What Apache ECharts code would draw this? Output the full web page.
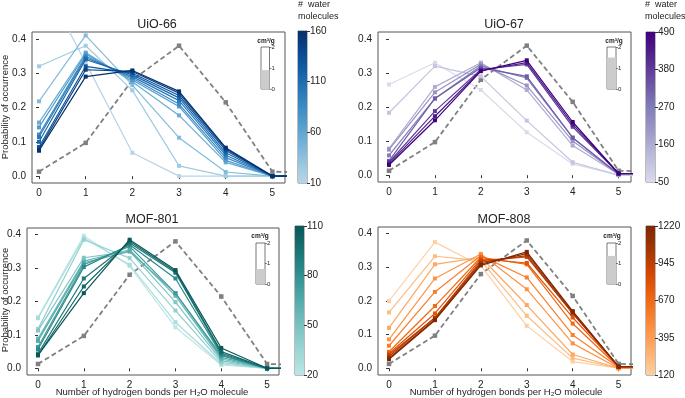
<!DOCTYPE html>
<html>
<head>
<meta charset="utf-8">
<script src="https://cdn.jsdelivr.net/npm/echarts@6/dist/echarts.min.js"></script>
<style>
  html, body { margin: 0; padding: 0; background: #fff; }
  #chart { width: 685px; height: 398px; }
</style>
</head>
<body>
<div id="chart"></div>
<script>
// number of H-bonds per water molecule (6 is outside the visible range, lines run off the right edge)
const hbonds = [0, 1, 2, 3, 4, 5, 6];
const xTicks = [0, 1, 2, 3, 4, 5];
const yTicks = [0, 0.1, 0.2, 0.3, 0.4];
const insetTicks = [0, 1, 2];

// bulk water reference (grey dashed)
const bulkWater = [0.013, 0.097, 0.28, 0.38, 0.215, 0.013, 0.01];

// UiO-66
const uio66Water = [10, 25, 40, 55, 70, 85, 100, 115, 130, 145, 160];
const uio66Profiles = [
  [0.59, 0.33, 0.068, 0.0, 0.0, 0.0, 0.0],
  [0.32, 0.38, 0.25, 0.03, 0.0, 0.0, 0.0],
  [0.218, 0.41, 0.265, 0.112, 0.012, 0.0, 0.0],
  [0.156, 0.36, 0.275, 0.177, 0.04, 0.0, 0.0],
  [0.142, 0.356, 0.28, 0.203, 0.046, 0.0, 0.0],
  [0.121, 0.35, 0.285, 0.21, 0.054, 0.0, 0.0],
  [0.114, 0.345, 0.29, 0.22, 0.061, 0.0, 0.0],
  [0.10, 0.34, 0.295, 0.228, 0.068, 0.0, 0.0],
  [0.085, 0.32, 0.30, 0.235, 0.075, 0.0, 0.0],
  [0.078, 0.31, 0.305, 0.242, 0.08, 0.0, 0.0],
  [0.074, 0.29, 0.308, 0.247, 0.083, 0.0, 0.0]
];
const uio66Ticks = [10, 60, 110, 160];
const uio66Uptake = 0.9;

// UiO-67
const uio67Water = [50, 105, 160, 215, 270, 325, 380, 435, 490];
const uio67Profiles = [
  [0.266, 0.33, 0.25, 0.126, 0.033, 0.0, 0.0],
  [0.183, 0.32, 0.29, 0.16, 0.038, 0.0, 0.0],
  [0.078, 0.259, 0.33, 0.25, 0.087, 0.003, 0.003],
  [0.075, 0.243, 0.325, 0.263, 0.10, 0.003, 0.003],
  [0.058, 0.225, 0.32, 0.285, 0.11, 0.003, 0.003],
  [0.042, 0.225, 0.315, 0.29, 0.11, 0.003, 0.003],
  [0.038, 0.188, 0.31, 0.325, 0.142, 0.005, 0.005],
  [0.034, 0.173, 0.307, 0.33, 0.149, 0.005, 0.005],
  [0.03, 0.161, 0.305, 0.337, 0.156, 0.005, 0.005]
];
const uio67Ticks = [50, 160, 270, 380, 490];
const uio67Uptake = 1.5;

// MOF-801
const mof801Water = [20, 29, 38, 47, 56, 65, 74, 83, 92, 101, 110];
const mof801Profiles = [
  [0.153, 0.397, 0.306, 0.123, 0.01, 0.0, 0.0],
  [0.15, 0.39, 0.31, 0.138, 0.013, 0.0, 0.0],
  [0.118, 0.385, 0.33, 0.173, 0.018, 0.0, 0.0],
  [0.113, 0.331, 0.35, 0.198, 0.023, 0.0, 0.0],
  [0.089, 0.321, 0.355, 0.217, 0.028, 0.0, 0.0],
  [0.082, 0.316, 0.35, 0.225, 0.033, 0.0, 0.0],
  [0.064, 0.31, 0.365, 0.225, 0.038, 0.0, 0.0],
  [0.057, 0.303, 0.37, 0.269, 0.041, 0.0, 0.0],
  [0.044, 0.269, 0.375, 0.286, 0.045, 0.0, 0.0],
  [0.039, 0.245, 0.38, 0.29, 0.05, 0.0, 0.0],
  [0.039, 0.225, 0.385, 0.294, 0.061, 0.0, 0.0]
];
const mof801Ticks = [20, 50, 80, 110];
const mof801Uptake = 0.73;

// MOF-808
const mof808Water = [120, 230, 340, 450, 560, 670, 780, 890, 1000, 1110, 1220];
const mof808Profiles = [
  [0.2, 0.375, 0.305, 0.126, 0.02, 0.0, 0.0],
  [0.166, 0.333, 0.32, 0.156, 0.03, 0.0, 0.0],
  [0.12, 0.309, 0.33, 0.188, 0.041, 0.0, 0.0],
  [0.086, 0.267, 0.34, 0.235, 0.074, 0.0, 0.0],
  [0.067, 0.227, 0.335, 0.27, 0.099, 0.003, 0.003],
  [0.049, 0.185, 0.33, 0.309, 0.133, 0.003, 0.003],
  [0.044, 0.163, 0.325, 0.313, 0.151, 0.005, 0.005],
  [0.04, 0.15, 0.32, 0.331, 0.163, 0.005, 0.005],
  [0.035, 0.15, 0.315, 0.335, 0.163, 0.005, 0.005],
  [0.03, 0.145, 0.31, 0.341, 0.167, 0.005, 0.005],
  [0.027, 0.143, 0.306, 0.346, 0.17, 0.005, 0.005]
];
const mof808Ticks = [120, 395, 670, 945, 1220];
const mof808Uptake = 1.37;

// colour maps (evenly spaced stops, lo = where the truncated map starts)
const blues = { lo: 0.3, stops: ['#f7fbff', '#deebf7', '#c6dbef', '#9ecae1', '#6baed6', '#4292c6', '#2171b5', '#08519c', '#08306b'] };
const purples = { lo: 0.25, stops: ['#fcfbfd', '#efedf5', '#dadaeb', '#bcbddc', '#9e9ac8', '#807dba', '#6a51a3', '#54278f', '#3f007d'] };
const teals = { lo: 0.2, stops: ['#e6f6f6', '#bde6e6', '#8ccccc', '#55aaaa', '#248282', '#0a5757'] };
const oranges = { lo: 0.25, stops: ['#fff5eb', '#fee6ce', '#fdd0a2', '#fdae6b', '#fd8d3c', '#f16913', '#d94801', '#a63603', '#7f2704'] };

const FONT = '"Liberation Sans", Arial, sans-serif';
const TXT = '#222';
const FRAME = '#555';

function hexToRgb(h) {
  return [parseInt(h.slice(1, 3), 16), parseInt(h.slice(3, 5), 16), parseInt(h.slice(5, 7), 16)];
}

// t in [0,1] over the truncated part of the map
function cmapColor(cm, t) {
  const s = cm.lo + (1 - cm.lo) * Math.min(Math.max(t, 0), 1);
  const n = cm.stops.length - 1;
  const p = s * n;
  const i = Math.min(Math.floor(p), n - 1);
  const f = p - i;
  const a = hexToRgb(cm.stops[i]), b = hexToRgb(cm.stops[i + 1]);
  return 'rgb(' + a.map((v, k) => Math.round(v + (b[k] - v) * f)).join(',') + ')';
}

// layout of the four panels
const panels = [
  {
    name: 'UiO-66', water: uio66Water, profiles: uio66Profiles, ticks: uio66Ticks, uptake: uio66Uptake, cmap: blues,
    grid: { left: 32, top: 32, width: 253, height: 151 }, xRange: [-0.15, 5.27],
    cbar: { left: 298, top: 31, width: 9, height: 152 },
    inset: { left: 261, top: 47, width: 8.5, height: 42 }, insetLabel: [266, 41],
    title: [157, 25], yName: [5, 107], xName: null, cbarName: [298, 5]
  },
  {
    name: 'UiO-67', water: uio67Water, profiles: uio67Profiles, ticks: uio67Ticks, uptake: uio67Uptake, cmap: purples,
    grid: { left: 378, top: 32, width: 253, height: 150 }, xRange: [-0.24, 5.27],
    cbar: { left: 646, top: 32, width: 9, height: 150 },
    inset: { left: 607, top: 47, width: 9, height: 42 }, insetLabel: [614, 41],
    title: [504, 25], yName: null, xName: null, cbarName: [645, 5]
  },
  {
    name: 'MOF-801', water: mof801Water, profiles: mof801Profiles, ticks: mof801Ticks, uptake: mof801Uptake, cmap: teals,
    grid: { left: 27, top: 228, width: 252, height: 147 }, xRange: [-0.24, 5.26],
    cbar: { left: 295, top: 226, width: 9, height: 149 },
    inset: { left: 256, top: 243, width: 9, height: 41 }, insetLabel: [260, 236],
    title: [152, 220], yName: [5, 300], xName: [152, 392], cbarName: null
  },
  {
    name: 'MOF-808', water: mof808Water, profiles: mof808Profiles, ticks: mof808Ticks, uptake: mof808Uptake, cmap: oranges,
    grid: { left: 378, top: 227, width: 253, height: 148 }, xRange: [-0.24, 5.27],
    cbar: { left: 646, top: 226, width: 9, height: 149 },
    inset: { left: 607, top: 243, width: 9, height: 41 }, insetLabel: [612, 236],
    title: [504, 220], yName: null, xName: [506, 392], cbarName: null
  }
];

const grids = [], xAxes = [], yAxes = [], series = [], graphics = [];

function text(x, y, str, opts) {
  graphics.push(Object.assign({
    type: 'text', x: x, y: y, silent: true,
    style: Object.assign({
      text: str, fill: TXT, fontFamily: FONT, fontSize: 10,
      align: 'center', verticalAlign: 'middle', textAlign: 'center', textVerticalAlign: 'middle'
    }, opts && opts.style)
  }, opts && opts.el));
}

panels.forEach((p, pi) => {
  const g = pi * 3;
  const wMin = p.ticks[0], wMax = p.ticks[p.ticks.length - 1];

  // main plot
  grids.push(Object.assign({ show: true, borderColor: FRAME, borderWidth: 1, backgroundColor: 'transparent', containLabel: false }, p.grid));
  xAxes.push({
    gridIndex: g, type: 'value', min: p.xRange[0], max: p.xRange[1],
    axisLine: { show: false },
    axisTick: { show: true, customValues: xTicks, length: 3, lineStyle: { color: '#333' } },
    axisLabel: { customValues: xTicks, fontSize: 10, color: TXT, fontFamily: FONT, margin: 5 },
    splitLine: { show: false }
  });
  yAxes.push({
    gridIndex: g, type: 'value', min: -0.02, max: 0.42,
    axisLine: { show: false },
    axisTick: { show: true, customValues: yTicks, length: 3, lineStyle: { color: '#333' } },
    axisLabel: { customValues: yTicks, fontSize: 10, color: TXT, fontFamily: FONT, margin: 6, formatter: v => v.toFixed(1) },
    splitLine: { show: false }
  });

  // colour bar
  grids.push(Object.assign({ show: true, borderColor: FRAME, borderWidth: 0.8, backgroundColor: 'transparent' }, p.cbar));
  xAxes.push({ gridIndex: g + 1, type: 'category', data: [''], show: false });
  yAxes.push({
    gridIndex: g + 1, type: 'value', position: 'right', min: wMin, max: wMax,
    axisLine: { show: false },
    axisTick: { show: true, customValues: p.ticks, length: 3, lineStyle: { color: '#333' } },
    axisLabel: { customValues: p.ticks, fontSize: 10, color: TXT, fontFamily: FONT, margin: 3, formatter: v => String(v) },
    splitLine: { show: false }
  });

  // inset (uptake cm3/g)
  grids.push(Object.assign({ show: true, borderColor: FRAME, borderWidth: 0.8, backgroundColor: '#fff' }, p.inset));
  xAxes.push({ gridIndex: g + 2, type: 'category', data: [''], show: false });
  yAxes.push({
    gridIndex: g + 2, type: 'value', position: 'right', min: 0, max: 2,
    axisLine: { show: false },
    axisTick: { show: true, customValues: insetTicks, length: 2, lineStyle: { color: '#333', width: 0.6 } },
    axisLabel: { customValues: insetTicks, fontSize: 6, color: TXT, fontFamily: FONT, margin: 2 },
    splitLine: { show: false }
  });

  // bulk water reference line
  series.push({
    type: 'line', xAxisIndex: g, yAxisIndex: g,
    data: hbonds.map((h, k) => [h, bulkWater[k]]),
    symbol: 'rect', symbolSize: 4.5, showSymbol: true,
    lineStyle: { color: '#808080', width: 1.8, type: [5, 3] },
    itemStyle: { color: '#808080' },
    silent: true, animation: false, z: 2
  });

  // one line per loading, light to dark
  p.profiles.forEach((prof, li) => {
    const c = cmapColor(p.cmap, (p.water[li] - wMin) / (wMax - wMin));
    series.push({
      type: 'line', xAxisIndex: g, yAxisIndex: g,
      data: hbonds.map((h, k) => [h, prof[k]]),
      symbol: 'rect', symbolSize: 4, showSymbol: true,
      lineStyle: { color: c, width: 1.2 },
      itemStyle: { color: c },
      silent: true, animation: false, z: 3 + li
    });
  });

  // colour bar fill
  const grad = [];
  for (let k = 0; k <= 10; k++) grad.push({ offset: k / 10, color: cmapColor(p.cmap, 1 - k / 10) });
  series.push({
    type: 'bar', xAxisIndex: g + 1, yAxisIndex: g + 1, stack: 'cb' + pi,
    data: [wMin], barWidth: '100%', itemStyle: { color: 'transparent' }, silent: true, animation: false
  });
  series.push({
    type: 'bar', xAxisIndex: g + 1, yAxisIndex: g + 1, stack: 'cb' + pi,
    data: [wMax - wMin], barWidth: '100%',
    itemStyle: { color: new echarts.graphic.LinearGradient(0, 0, 0, 1, grad) },
    silent: true, animation: false
  });

  // inset bar
  series.push({
    type: 'bar', xAxisIndex: g + 2, yAxisIndex: g + 2,
    data: [p.uptake], barWidth: '100%', itemStyle: { color: '#cccccc' },
    silent: true, animation: false
  });

  // texts
  text(p.title[0], p.title[1], p.name, { style: { fontSize: 12.5 } });
  text(p.insetLabel[0], p.insetLabel[1], 'cm³/g', { style: { fontSize: 6.5, fontWeight: 'bold' } });
  if (p.yName) {
    text(p.yName[0], p.yName[1], 'Probability of occurrence', { style: { fontSize: 9.5 }, el: { rotation: Math.PI / 2 } });
  }
  if (p.xName) {
    text(p.xName[0], p.xName[1], 'Number of hydrogen bonds per H₂O molecule', { style: { fontSize: 9.5 } });
  }
  if (p.cbarName) {
    text(p.cbarName[0], p.cbarName[1], '#  water', { style: { fontSize: 9, align: 'left', textAlign: 'left' } });
    text(p.cbarName[0], p.cbarName[1] + 12, 'molecules', { style: { fontSize: 9, align: 'left', textAlign: 'left' } });
  }
});

const chart = echarts.init(document.getElementById('chart'), null, { renderer: 'canvas' });
chart.setOption({
  animation: false,
  backgroundColor: '#fff',
  grid: grids,
  xAxis: xAxes,
  yAxis: yAxes,
  series: series,
  graphic: graphics
});
</script>
</body>
</html>
